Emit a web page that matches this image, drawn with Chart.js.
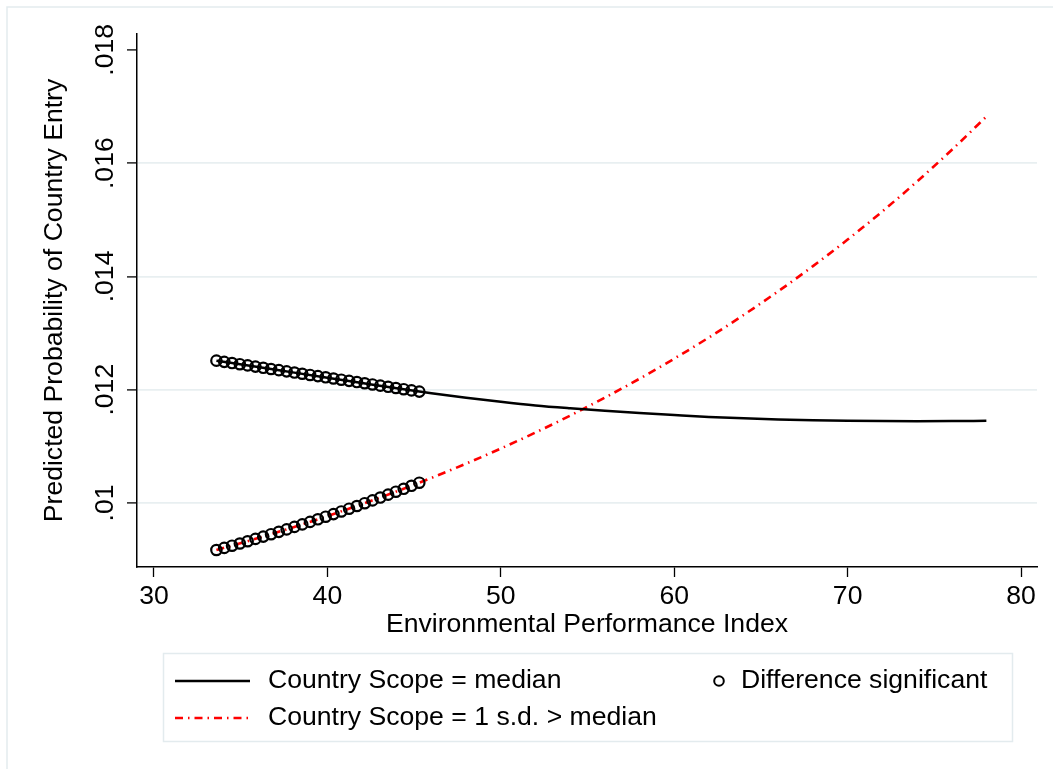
<!DOCTYPE html>
<html>
<head>
<meta charset="utf-8">
<script src="https://cdn.jsdelivr.net/npm/chart.js@4.4.1/dist/chart.umd.min.js"></script>
<style>
html,body{margin:0;padding:0;background:#fff;}
canvas{display:block;}
</style>
</head>
<body>
<canvas id="epiChart" width="1053" height="769"></canvas>
<script>
// EPI values where the two prediction curves were read
const epiGrid = [33.6,36,38,40,42,44,46,48,50,52,54,56,58,60,62,64,66,68,70,72,74,76,78];
const probMedian = [0.012513,0.012400,0.012306,0.012212,0.012118,0.012025,0.011938,0.011858,0.011786,0.011722,0.011672,0.011628,0.011588,0.011553,0.011520,0.011495,0.011475,0.011461,0.011452,0.011447,0.011445,0.011446,0.011450];
const probHigh = [0.009170,0.009380,0.009569,0.009769,0.009981,0.010205,0.010443,0.010695,0.010962,0.011244,0.011543,0.011860,0.012194,0.012548,0.012922,0.013319,0.013738,0.014182,0.014651,0.015148,0.015675,0.016232,0.016822];

// significant-difference markers
const sigEpi = [33.6,34.05,34.5,34.95,35.4,35.85,36.3,36.75,37.2,37.65,38.1,38.55,39.0,39.45,39.9,40.35,40.8,41.25,41.7,42.15,42.6,43.05,43.5,43.95,44.4,44.85,45.3];
const sigMedian = [0.012513,0.012492,0.012471,0.012450,0.012429,0.012408,0.012387,0.012366,0.012345,0.012324,0.012303,0.012282,0.012261,0.012240,0.012219,0.012198,0.012177,0.012156,0.012135,0.012114,0.012093,0.012072,0.012051,0.012030,0.012009,0.011988,0.011967];
const sigHigh = [0.009170,0.009207,0.009246,0.009285,0.009325,0.009366,0.009407,0.009449,0.009491,0.009534,0.009578,0.009622,0.009666,0.009712,0.009758,0.009804,0.009851,0.009899,0.009947,0.009996,0.010046,0.010096,0.010147,0.010199,0.010251,0.010304,0.010358];

const xTicks = [30,40,50,60,70,80];
const yTicks = [0.01,0.012,0.014,0.016,0.018];

const FONT = 'Liberation Sans, Arial, Helvetica, sans-serif';
Chart.defaults.font.family = FONT;
Chart.defaults.font.size = 26.6;
Chart.defaults.color = '#000';

const sigPoints = sigEpi.map((x,i)=>({x:x,y:sigMedian[i]}))
  .concat(sigEpi.map((x,i)=>({x:x,y:sigHigh[i]})));

// frame + boxed legend like the Stata output
const stataDecor = {
  id:'stataDecor',
  beforeDraw(chart){
    const c = chart.ctx;
    c.save();
    c.fillStyle = '#fff';
    c.fillRect(0,0,chart.width,chart.height);
    c.strokeStyle = '#e3ebee';
    c.lineWidth = 1.5;
    c.beginPath();
    c.moveTo(7,chart.height);
    c.lineTo(7,7);
    c.lineTo(chart.width,7);
    c.stroke();
    c.restore();
  },
  afterDraw(chart){
    const c = chart.ctx;
    const ds = chart.data.datasets;
    c.save();
    c.fillStyle = '#fff';
    c.fillRect(163,653,849,88);
    c.strokeStyle = '#e3ebee';
    c.lineWidth = 1.5;
    c.strokeRect(163.5,653.5,849,88);

    c.font = '26.6px ' + FONT;
    c.fillStyle = '#000';
    c.textBaseline = 'middle';
    c.textAlign = 'left';

    // solid black
    c.strokeStyle = '#000';
    c.lineWidth = 2.4;
    c.setLineDash([]);
    c.beginPath(); c.moveTo(175,681); c.lineTo(250,681); c.stroke();
    c.fillText(ds[1].label, 268, 681);

    // red dash-dot
    c.strokeStyle = '#ff0000';
    c.setLineDash([8,5,1.5,5]);
    c.beginPath(); c.moveTo(175,718); c.lineTo(250,718); c.stroke();
    c.setLineDash([]);
    c.fillText(ds[2].label, 268, 718);

    // hollow marker
    c.strokeStyle = '#000';
    c.lineWidth = 2;
    c.beginPath(); c.arc(719,681,4.8,0,Math.PI*2); c.stroke();
    c.fillText(ds[0].label, 741, 681);
    c.restore();
  }
};

new Chart(document.getElementById('epiChart'), {
  type:'line',
  data:{
    datasets:[{
      label:'Difference significant',
      data:sigPoints,
      showLine:false,
      pointRadius:5.2,
      pointBorderWidth:2.2,
      pointBorderColor:'#000',
      pointBackgroundColor:'rgba(0,0,0,0)',
      order:0
    },{
      label:'Country Scope = median',
      data:epiGrid.map((x,i)=>({x:x,y:probMedian[i]})),
      borderColor:'#000',
      borderWidth:2.5,
      pointRadius:0,
      cubicInterpolationMode:'monotone',
      order:1
    },{
      label:'Country Scope = 1 s.d. > median',
      data:epiGrid.map((x,i)=>({x:x,y:probHigh[i]})),
      borderColor:'#ff0000',
      borderWidth:2.6,
      borderDash:[8,5,1.5,5],
      pointRadius:0,
      cubicInterpolationMode:'monotone',
      order:2
    }]
  },
  options:{
    responsive:false,
    animation:false,
    layout:{padding:{left:10,top:34,right:16,bottom:128}},
    plugins:{
      legend:{display:false},
      tooltip:{enabled:false}
    },
    scales:{
      x:{
        type:'linear',
        min:29.02,
        max:80.92,
        afterBuildTicks:(s)=>{ s.ticks = xTicks.map(v=>({value:v})); },
        afterFit:(s)=>{ s.height = 74; },
        grid:{drawOnChartArea:false, tickColor:'#000', tickLength:10, tickWidth:1.3},
        border:{color:'#000', width:1.5},
        ticks:{padding:4, maxRotation:0, autoSkip:false},
        title:{display:true, text:'Environmental Performance Index', padding:{top:0,bottom:0}}
      },
      y:{
        type:'linear',
        min:0.00887,
        max:0.01828,
        afterBuildTicks:(s)=>{ s.ticks = yTicks.map(v=>({value:v})); },
        afterFit:(s)=>{ s.width = 127; },
        grid:{
          color:(ctx)=> (ctx.tick && ctx.tick.value >= 0.018) ? 'rgba(0,0,0,0)' : '#e8eff1',
          lineWidth:1.8,
          tickColor:'#000',
          tickLength:10,
          tickWidth:1.3
        },
        border:{color:'#000', width:1.5},
        ticks:{
          minRotation:90,
          maxRotation:90,
          crossAlign:'center',
          padding:-5,
          autoSkip:false,
          callback:(v)=> String(+v.toFixed(3)).replace(/^0/,'')
        },
        title:{display:true, text:'Predicted Probability of Country Entry', padding:{top:29,bottom:0}}
      }
    }
  },
  plugins:[stataDecor]
});
</script>
</body>
</html>
